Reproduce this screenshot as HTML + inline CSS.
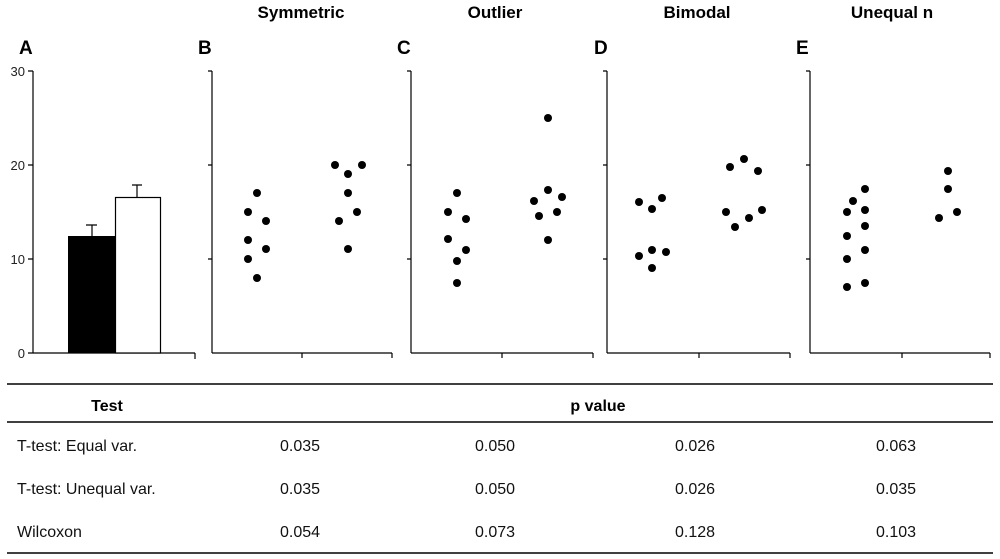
<!DOCTYPE html>
<html><head><style>body{margin:0;background:#fff}svg{display:block}</style></head><body>
<svg width="1000" height="559" xmlns="http://www.w3.org/2000/svg" font-family="Liberation Sans, Arial, sans-serif">
<g font-weight="bold" font-size="17" text-anchor="middle">
<text x="301" y="18">Symmetric</text><text x="495" y="18">Outlier</text><text x="697" y="18">Bimodal</text><text x="892" y="18">Unequal n</text>
</g>
<g font-weight="bold" font-size="19">
<text x="19" y="54">A</text><text x="198" y="54">B</text><text x="397" y="54">C</text><text x="594" y="54">D</text><text x="796" y="54">E</text>
</g>
<g font-size="13" fill="#222" text-anchor="end">
<text x="25" y="76">30</text><text x="25" y="170">20</text><text x="25" y="264">10</text><text x="25" y="358">0</text>
</g>
<g stroke="#000" stroke-width="1.2" fill="none">
<path d="M33 71V353M28 71H33M28 165H33M28 259H33M28 353H195M195 353V359"/>
<path d="M212 71V353M208 71H212M208 165H212M208 259H212M212 353H392M302 353V358M392 353V358"/>
<path d="M411 71V353M407 71H411M407 165H411M407 259H411M411 353H593M502 353V358M593 353V358"/>
<path d="M607 71V353M603 71H607M603 165H607M603 259H607M607 353H790M699 353V358M790 353V358"/>
<path d="M810 71V353M806 71H810M806 165H810M806 259H810M810 353H990M902 353V358M990 353V358"/>
<path d="M92 236V225M86 225H97M137 197V185M132 185H142"/>
</g>
<rect x="68" y="236" width="47" height="117" fill="#000"/>
<rect x="115.5" y="197.5" width="45" height="155.5" fill="#fff" stroke="#000" stroke-width="1.2"/>
<g fill="#000">
<circle cx="257" cy="193" r="4"/><circle cx="248" cy="212" r="4"/><circle cx="266" cy="221" r="4"/><circle cx="248" cy="240" r="4"/><circle cx="266" cy="249" r="4"/><circle cx="248" cy="259" r="4"/><circle cx="257" cy="278" r="4"/>
<circle cx="335" cy="165" r="4"/><circle cx="362" cy="165" r="4"/><circle cx="348" cy="174" r="4"/><circle cx="348" cy="193" r="4"/><circle cx="357" cy="212" r="4"/><circle cx="339" cy="221" r="4"/><circle cx="348" cy="249" r="4"/>
<circle cx="457" cy="193" r="4"/><circle cx="448" cy="212" r="4"/><circle cx="466" cy="219" r="4"/><circle cx="448" cy="239" r="4"/><circle cx="466" cy="250" r="4"/><circle cx="457" cy="261" r="4"/><circle cx="457" cy="283" r="4"/>
<circle cx="548" cy="118" r="4"/><circle cx="548" cy="190" r="4"/><circle cx="534" cy="201" r="4"/><circle cx="562" cy="197" r="4"/><circle cx="539" cy="216" r="4"/><circle cx="557" cy="212" r="4"/><circle cx="548" cy="240" r="4"/>
<circle cx="639" cy="202" r="4"/><circle cx="652" cy="209" r="4"/><circle cx="662" cy="198" r="4"/><circle cx="639" cy="256" r="4"/><circle cx="652" cy="250" r="4"/><circle cx="666" cy="252" r="4"/><circle cx="652" cy="268" r="4"/>
<circle cx="730" cy="167" r="4"/><circle cx="744" cy="159" r="4"/><circle cx="758" cy="171" r="4"/><circle cx="726" cy="212" r="4"/><circle cx="735" cy="227" r="4"/><circle cx="749" cy="218" r="4"/><circle cx="762" cy="210" r="4"/>
<circle cx="847" cy="212" r="4"/><circle cx="853" cy="201" r="4"/><circle cx="865" cy="189" r="4"/><circle cx="865" cy="210" r="4"/><circle cx="865" cy="226" r="4"/><circle cx="847" cy="236" r="4"/><circle cx="865" cy="250" r="4"/><circle cx="847" cy="259" r="4"/><circle cx="847" cy="287" r="4"/><circle cx="865" cy="283" r="4"/>
<circle cx="948" cy="171" r="4"/><circle cx="948" cy="189" r="4"/><circle cx="957" cy="212" r="4"/><circle cx="939" cy="218" r="4"/>
</g>
<g stroke="#000" stroke-width="1.5"><path d="M7 384H993M7 422H993M7 553H993"/></g>
<g font-weight="bold" font-size="16" text-anchor="middle"><text x="107" y="411">Test</text><text x="598" y="411">p value</text></g>
<g font-size="16" fill="#111">
<text x="17" y="451">T-test: Equal var.</text><text x="17" y="494">T-test: Unequal var.</text><text x="17" y="537">Wilcoxon</text>
<g text-anchor="middle">
<text x="300" y="451">0.035</text><text x="495" y="451">0.050</text><text x="695" y="451">0.026</text><text x="896" y="451">0.063</text>
<text x="300" y="494">0.035</text><text x="495" y="494">0.050</text><text x="695" y="494">0.026</text><text x="896" y="494">0.035</text>
<text x="300" y="537">0.054</text><text x="495" y="537">0.073</text><text x="695" y="537">0.128</text><text x="896" y="537">0.103</text>
</g></g>
</svg>
</body></html>
